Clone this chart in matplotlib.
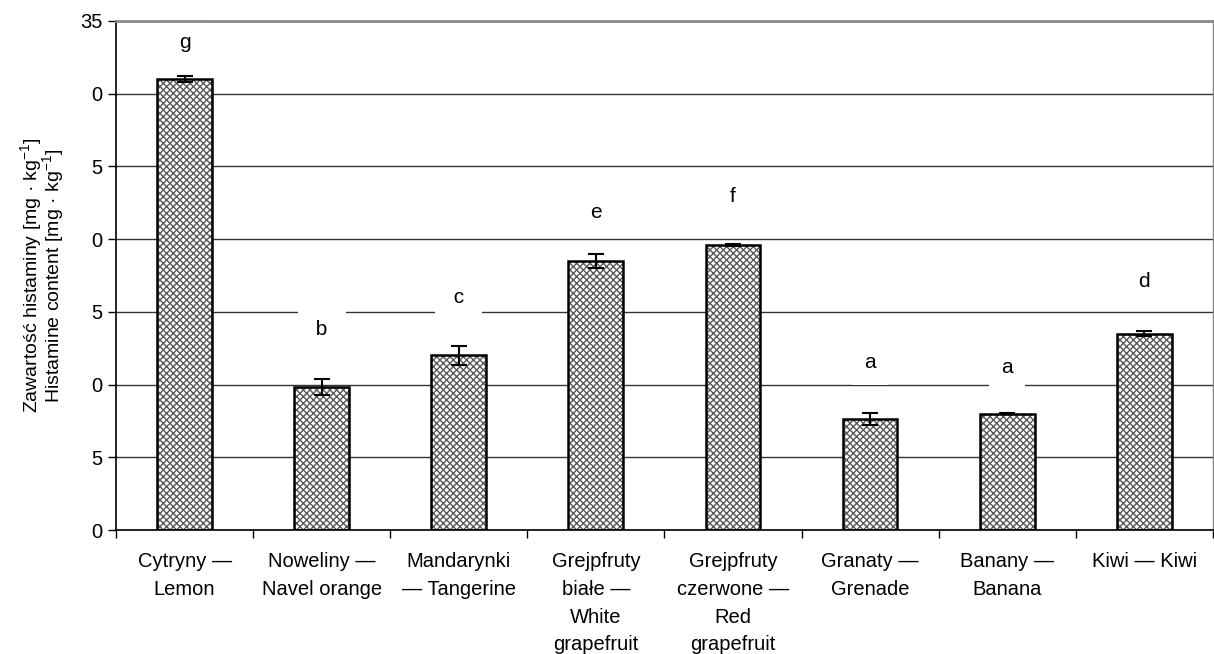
import numpy as np
import matplotlib
matplotlib.use('Agg')
from matplotlib import pyplot as plt

plt.rcParams['font.family'] = ['Liberation Sans', 'DejaVu Sans']
plt.rcParams['mathtext.fontset'] = 'custom'
plt.rcParams['mathtext.rm'] = 'Liberation Sans'
plt.rcParams['mathtext.it'] = 'Liberation Sans'
plt.rcParams['mathtext.default'] = 'regular'

categories = ['Cytryny —\nLemon', 'Noweliny —\nNavel orange', 'Mandarynki\n— Tangerine',
              'Grejpfruty\nbiałe —\nWhite\ngrapefruit', 'Grejpfruty\nczerwone —\nRed\ngrapefruit',
              'Granaty —\nGrenade', 'Banany —\nBanana', 'Kiwi — Kiwi']
values = [31.0, 9.85, 12.0, 18.5, 19.6, 7.65, 8.0, 13.5]
errors = [0.2, 0.55, 0.65, 0.5, 0.05, 0.4, 0.05, 0.15]
letters = ['g', ' b ', ' c ', 'e', 'f', 'a', 'a', 'd']
letter_y = [33.5, 13.8, 16.0, 21.8, 22.9, 11.5, 11.2, 17.1]
ytick_vals = [0, 5, 10, 15, 20, 25, 30, 35]
ytick_labels = ['0', '5', '0', '5', '0', '5', '0', '35']

fig = plt.figure(figsize=(12.14, 6.54), dpi=100)
ax = fig.add_axes([0.0956, 0.1896, 0.9034, 0.7784])

x = np.arange(len(categories))
ax.bar(x, values, width=0.4, color='white', edgecolor='#5a5a5a', hatch='xxxxx',
       linewidth=0, zorder=2)
ax.bar(x, values, width=0.4, color='none', edgecolor='black', linewidth=1.8, zorder=3)
ax.errorbar(x, values, yerr=errors, fmt='none', ecolor='black', elinewidth=1.5,
            capsize=6, capthick=1.5, zorder=4)

# letters sit in white boxes that break the gridlines, but stay under the spines
for xi, t, yt in zip(x, letters, letter_y):
    ax.text(xi, yt, t, ha='center', va='center', fontsize=15, zorder=1.5,
            bbox=dict(facecolor='white', edgecolor='none', boxstyle='square,pad=0.6'))

ax.set_xlim(-0.5, len(categories) - 0.5)
ax.set_ylim(0, 35)
ax.set_yticks(ytick_vals)
ax.set_yticklabels(ytick_labels, fontsize=14.5)
ax.yaxis.grid(True, color='#333333', linewidth=1)
ax.set_axisbelow(True)

ax.set_xticks(x)
ax.set_xticklabels(categories, fontsize=14.5, linespacing=1.58)
ax.set_xticks(np.arange(-0.5, len(categories)), minor=True)
ax.tick_params(axis='x', which='major', length=0, pad=16)
ax.tick_params(axis='x', which='minor', length=6, width=1, direction='out')
ax.tick_params(axis='y', length=6, width=1, direction='out', pad=4)

ax.spines['left'].set_linewidth(1.2)
ax.spines['bottom'].set_linewidth(1.2)
ax.spines['top'].set_color('#8a8a8a')
ax.spines['top'].set_linewidth(2)
ax.spines['right'].set_color('#8a8a8a')
ax.spines['right'].set_linewidth(1)

ax.set_ylabel('Zawartość histaminy [mg · kg$^{−1}$]\nHistamine content [mg · kg$^{−1}$]',
              fontsize=14, labelpad=10, linespacing=0.8)

plt.savefig('out.png', dpi=100)
